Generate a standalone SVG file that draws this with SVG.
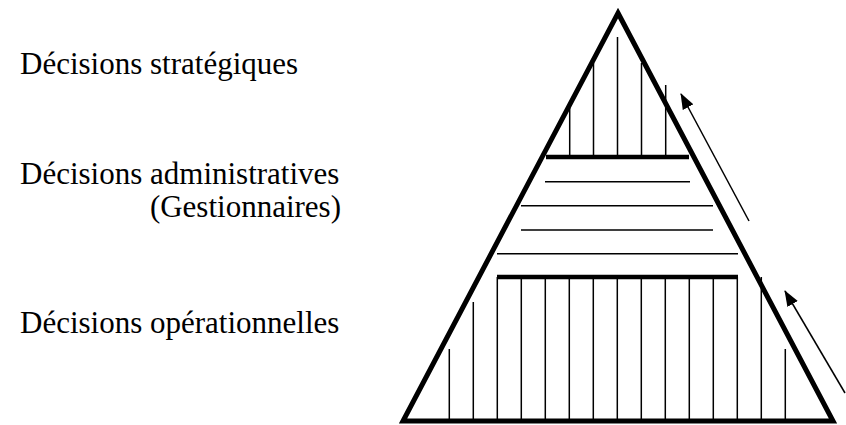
<svg xmlns="http://www.w3.org/2000/svg" width="846" height="425" viewBox="0 0 846 425">
<style>
.lbl{font-family:"Liberation Serif","Times New Roman",serif;font-size:31px;fill:#000}
.thin{stroke:#000;stroke-width:1.5;fill:none}
.thick{stroke:#000;stroke-width:4.5;fill:none}
.edge{stroke:#000;stroke-width:5;fill:none;stroke-linejoin:miter}
</style>
<defs>
<marker id="ah" viewBox="0 0 16 12" refX="15" refY="6" markerWidth="16" markerHeight="12" markerUnits="userSpaceOnUse" orient="auto">
<path d="M0,0 L16,6 L0,12 z" fill="#000"/>
</marker>
</defs>
<rect width="846" height="425" fill="#fff"/>
<g id="labels">
<text class="lbl" x="20" y="74">Décisions stratégiques</text>
<text class="lbl" x="20" y="184">Décisions administratives</text>
<text class="lbl" x="341" y="217" text-anchor="end">(Gestionnaires)</text>
<text class="lbl" x="20" y="333">Décisions opérationnelles</text>
</g>
<g id="pyramid">
<g id="top-level">
<path class="thin" d="M569.7,108V157M593.5,63V157M617.5,37V157M641.5,63V157M665.7,85V157"/>
<line class="thick" x1="546" y1="157" x2="689" y2="157"/>
</g>
<g id="middle-level">
<path class="thin" d="M545,181.7H690M521,205.7H713M521,230H713M497,253.7H738"/>
<line class="thick" x1="497" y1="277" x2="738" y2="277"/>
</g>
<g id="bottom-level">
<path class="thin" d="M449.3,349V421M473.3,302V421M497.3,277V421M521.3,277V421M545.3,277V421M569.3,277V421M593.3,277V421M617.3,277V421M641.3,277V421M665.3,277V421M689.3,277V421M713.3,277V421M737.3,277V421M761.3,277V421M785.3,349V421"/>
</g>
<path id="outline" class="edge" d="M618,13 L833,421 L403,421 Z"/>
</g>
<g id="connectors">
<line class="thin" x1="749" y1="221" x2="681" y2="94" marker-end="url(#ah)"/>
<line class="thin" x1="845" y1="393" x2="785" y2="291" marker-end="url(#ah)"/>
</g>
</svg>
